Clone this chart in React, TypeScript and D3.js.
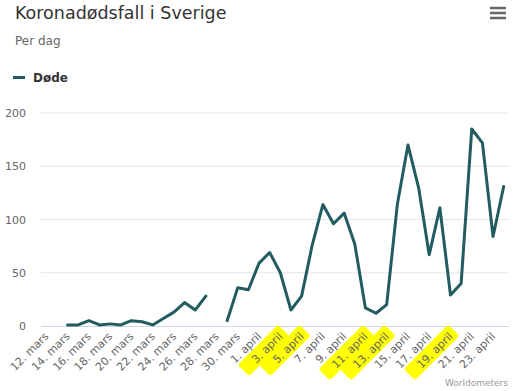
import * as d3 from "d3";
import { useEffect } from "react";

const categories = [
  "12. mars", "13. mars", "14. mars", "15. mars", "16. mars", "17. mars", "18. mars", "19. mars",
  "20. mars", "21. mars", "22. mars", "23. mars", "24. mars", "25. mars", "26. mars", "27. mars",
  "28. mars", "29. mars", "30. mars", "31. mars", "1. april", "2. april", "3. april", "4. april",
  "5. april", "6. april", "7. april", "8. april", "9. april", "10. april", "11. april", "12. april",
  "13. april", "14. april", "15. april", "16. april", "17. april", "18. april", "19. april", "20. april",
  "21. april", "22. april", "23. april", "24. april",
];

const deaths: (number | null)[] = [
  null, null, 1, 1, 5, 1, 2, 1,
  5, 4, 1, 7, 13, 22, 15, 28,
  null, 5, 36, 34, 59, 69, 50, 15,
  28, 76, 114, 96, 106, 77, 17, 12,
  20, 114, 170, 130, 67, 111, 29, 40,
  185, 172, 84, 131,
];

// labels marked with a highlighter in the original
const highlighted = ["3. april", "5. april", "11. april", "13. april", "19. april"];

const yTicks = [0, 50, 100, 150, 200];

const seriesName = "Døde";
const title = "Koronadødsfall i Sverige";
const subtitle = "Per dag";
const credits = "Worldometers";

const W = 513;
const H = 391;
const plot = { left: 41, right: 509, top: 113, bottom: 326 };
const lineColor = "#225b60";
const font = "'DejaVu Sans', sans-serif";

export default function App() {
  useEffect(() => {
    document.body.style.margin = "0";
  }, []);

  const x = d3
    .scaleBand<string>()
    .domain(categories)
    .range([plot.left, plot.right])
    .padding(0);
  const cx = (c: string) => x(c)! + x.bandwidth() / 2;

  const y = d3.scaleLinear().domain([0, 200]).range([plot.bottom, plot.top]);

  const line = d3
    .line<number | null>()
    .defined((d) => d != null)
    .x((_, i) => cx(categories[i]))
    .y((d) => y(d as number));

  const labelTf = (c: string) => `translate(${cx(c) + 3},${plot.bottom + 11}) rotate(-45)`;

  return (
    <svg width={W} height={H} style={{ display: "block", background: "#fff" }} fontFamily={font}>
      <text x={15} y={18.5} fontSize={17.5} fill="#333">
        {title}
      </text>
      <text x={15} y={45} fontSize={12} fill="#666">
        {subtitle}
      </text>

      {/* menu */}
      <g stroke="#666" strokeWidth={2.5}>
        {[8, 13, 18].map((yy) => (
          <line key={yy} x1={490} x2={506} y1={yy} y2={yy} />
        ))}
      </g>

      {/* legend */}
      <line x1={13} x2={25} y1={77.5} y2={77.5} stroke={lineColor} strokeWidth={3} />
      <text x={33} y={81.5} fontSize={12} fontWeight="bold" fill="#333">
        {seriesName}
      </text>

      {/* grid */}
      {yTicks.map((t) => (
        <g key={t}>
          {t > 0 && (
            <line x1={plot.left} x2={plot.right} y1={y(t)} y2={y(t)} stroke="#e6e6e6" />
          )}
          <text x={26} y={y(t) + 4} fontSize={11} fill="#666" textAnchor="end">
            {t}
          </text>
        </g>
      ))}
      <line x1={plot.left} x2={plot.right} y1={plot.bottom + 0.5} y2={plot.bottom + 0.5} stroke="#ccd6eb" />

      {/* highlighter marks */}
      {highlighted.map((c) => (
        <rect
          key={"h" + c}
          transform={labelTf(c)}
          x={-c.length * 6 - 4}
          y={-12.5}
          width={c.length * 6 + 9}
          height={16}
          rx={3}
          fill="#ffff00"
        />
      ))}

      {/* x labels */}
      {categories.map((c, i) =>
        i % 2 === 0 ? (
          <text key={c} transform={labelTf(c)} fontSize={11} fill="#666" textAnchor="end">
            {c}
          </text>
        ) : null
      )}

      <path d={line(deaths) || ""} fill="none" stroke={lineColor} strokeWidth={3} strokeLinejoin="round" strokeLinecap="round" />

      <text x={508} y={386} fontSize={9} fill="#999" textAnchor="end">
        {credits}
      </text>
    </svg>
  );
}
